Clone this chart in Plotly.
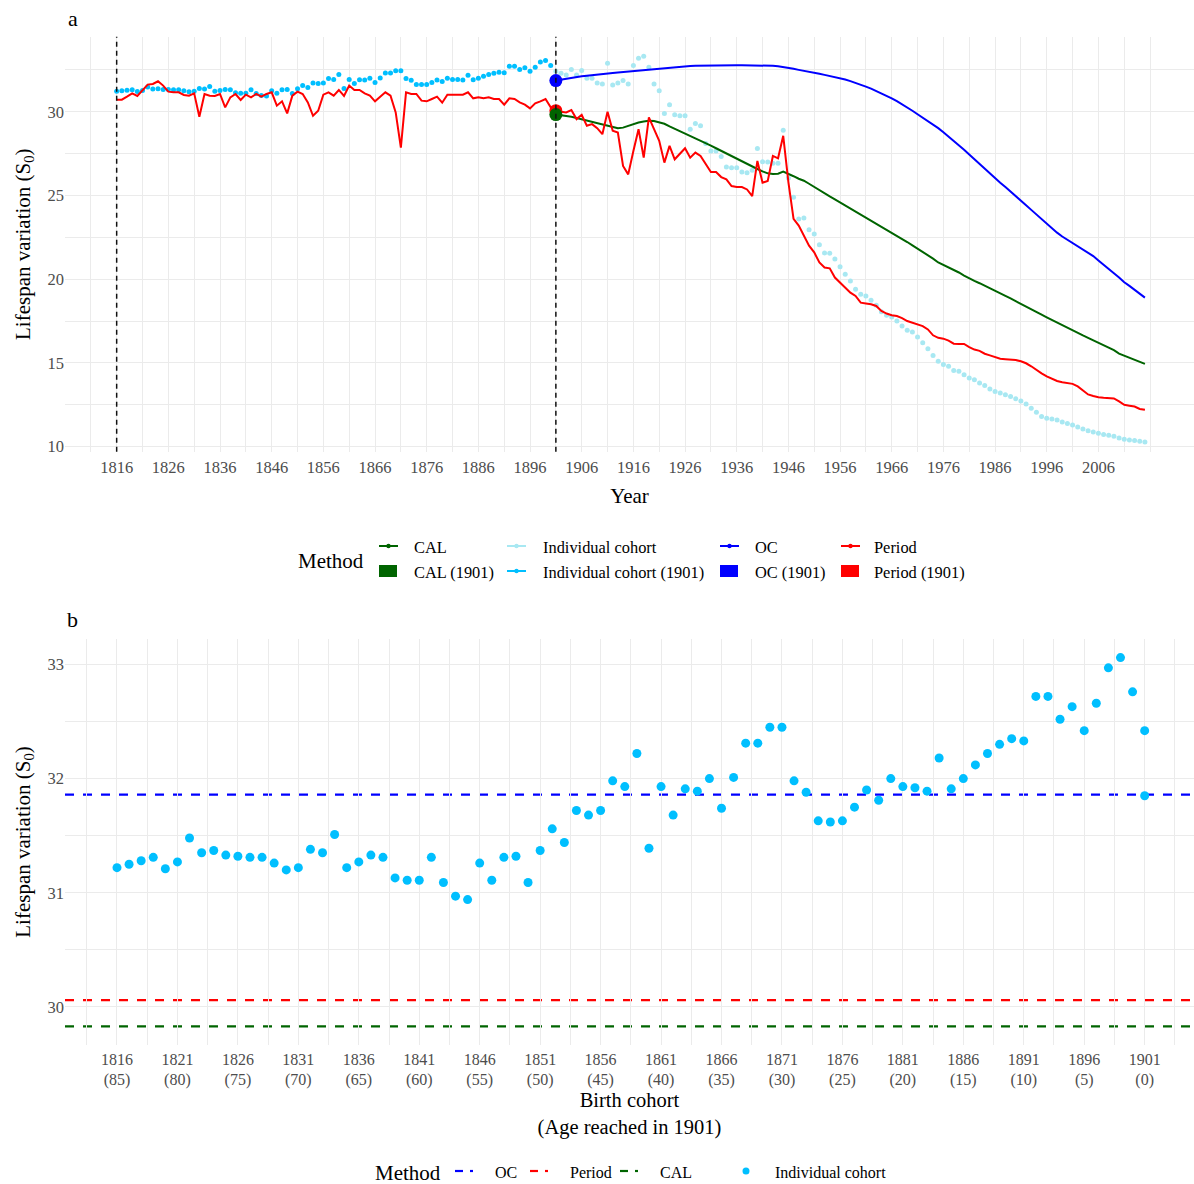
import plotly.graph_objects as go

W, H = 1194, 1184
FONT = "Liberation Serif"

# ---------------- data ----------------
ref_year = 1901

# Period lifespan variation, 1816-2015
period_s0 = [
    30.72, 30.72, 30.9, 31.1, 30.94, 31.3, 31.62, 31.66, 31.82, 31.56,
    31.2, 31.16, 31.16, 31.0, 30.96, 31.1, 29.7, 31.06, 30.96, 30.94,
    31.06, 30.26, 30.86, 31.06, 30.7, 31.02, 30.86, 31.06, 30.9, 31.06,
    31.16, 30.36, 30.62, 29.9, 30.96, 31.2, 31.06, 30.56, 29.76, 30.06,
    31.02, 31.16, 30.96, 31.3, 30.94, 31.56, 31.3, 31.3, 31.1, 30.96,
    30.62, 30.9, 31.16, 30.96, 29.96, 27.86, 31.16, 31.06, 31.06, 30.66,
    30.62, 30.76, 30.9, 30.54, 31.02, 31.02, 31.0, 31.02, 31.16, 30.8,
    30.86, 30.8, 30.86, 30.76, 30.76, 30.42, 30.8, 30.76, 30.56, 30.42,
    30.2, 30.5, 30.62, 30.76, 30.26,
    30.06, 30.0, 29.96, 30.1, 29.56, 29.82, 29.16, 29.26, 29.02, 28.66,
    30.0, 28.86, 28.76, 26.76, 26.26, 27.66, 28.96, 27.26, 29.66, 28.96,
    28.26, 26.96, 27.96, 27.16, 27.46, 27.82, 27.26, 27.56, 27.36, 26.86,
    26.4, 26.4, 26.1, 25.96, 25.56, 25.5, 25.5, 25.36, 24.96, 27.06,
    25.76, 25.86, 27.36, 27.22, 28.56, 25.8, 23.6, 23.2,
    22.6, 22.0, 21.6, 21.0, 20.7, 20.65, 20.1, 19.8, 19.5, 19.2,
    19.0, 18.6, 18.55, 18.5, 18.4, 18.1, 17.95, 17.85, 17.8, 17.68,
    17.5, 17.4, 17.3, 17.2, 17.0, 16.65, 16.5, 16.45, 16.33, 16.15,
    16.13, 16.13, 15.95, 15.8, 15.72, 15.55, 15.45, 15.35, 15.25, 15.22,
    15.2, 15.17, 15.1, 14.98, 14.8, 14.58, 14.38, 14.2, 14.05, 13.92,
    13.85, 13.82, 13.75, 13.6, 13.35, 13.12, 13.03, 12.95, 12.92, 12.92,
    12.88, 12.7, 12.5, 12.45, 12.4, 12.25, 12.2,
]
period_years = list(range(1816, 1816 + len(period_s0)))

# CAL, 1901-2015
cal_s0 = [
    29.83, 29.8, 29.76, 29.7, 29.63, 29.55, 29.47, 29.4, 29.3, 29.22,
    29.16, 29.08, 29.02, 29.05, 29.15, 29.28, 29.36, 29.42, 29.46, 29.44,
    29.38, 29.28, 29.12, 28.98, 28.85, 28.7, 28.56, 28.44, 28.3, 28.13,
    27.98, 27.82, 27.66, 27.5, 27.34, 27.18, 27.02, 26.86, 26.72, 26.58,
    26.44, 26.32, 26.28, 26.3, 26.42, 26.3, 26.15, 26.0, 25.88, 25.7,
    25.5, 25.3, 25.12, 24.94, 24.76, 24.58, 24.4, 24.22, 24.05, 23.88,
    23.71, 23.52, 23.34, 23.16, 22.98, 22.8, 22.6, 22.42, 22.22, 22.02,
    21.83, 21.63, 21.43, 21.23, 21.0, 20.85, 20.73, 20.58, 20.4, 20.22,
    20.04, 19.9, 19.76, 19.6, 19.45, 19.3, 19.15, 19.0, 18.85, 18.68,
    18.51, 18.36, 18.2, 18.04, 17.88, 17.72, 17.56, 17.4, 17.24, 17.08,
    16.92, 16.78, 16.64, 16.5, 16.36, 16.22, 16.08, 15.92, 15.76, 15.56,
    15.44, 15.32, 15.18, 15.05, 14.94,
]

# OC, 1901-2015
oc_s0 = [
    31.86, 31.92, 31.98, 32.04, 32.08, 32.12, 32.15, 32.19, 32.22, 32.25,
    32.28, 32.31, 32.34, 32.37, 32.4, 32.43, 32.46, 32.49, 32.52, 32.55,
    32.58, 32.61, 32.64, 32.67, 32.69, 32.71, 32.73, 32.74, 32.75, 32.76,
    32.77, 32.78, 32.78, 32.78, 32.78, 32.78, 32.78, 32.78, 32.78, 32.78,
    32.77, 32.76, 32.74, 32.71, 32.67, 32.62, 32.56, 32.5, 32.45, 32.4,
    32.34, 32.27, 32.2, 32.14, 32.07, 32.0, 31.92, 31.83, 31.73, 31.62,
    31.5, 31.38, 31.24, 31.1, 30.95, 30.8, 30.63, 30.45, 30.26, 30.06,
    29.85, 29.65, 29.45, 29.25, 29.02, 28.78, 28.53, 28.27, 28.0, 27.73,
    27.45, 27.16, 26.87, 26.58, 26.3, 26.03, 25.76, 25.5, 25.24, 24.98,
    24.7, 24.42, 24.14, 23.86, 23.58, 23.3, 23.04, 22.78, 22.55, 22.35,
    22.18, 22.0, 21.8, 21.6, 21.38, 21.12, 20.85, 20.6, 20.35, 20.1,
    19.82, 19.6, 19.38, 19.15, 18.9,
]

# Individual cohort (after 1901), 1901-2015
cohort_post_s0 = [
    32.42, 32.3, 32.2, 32.52, 32.2, 32.46, 32.0, 32.0, 31.72, 31.66,
    32.9, 31.6, 31.72, 31.86, 31.66, 32.76, 33.2, 33.32, 32.66, 31.66,
    31.26, 29.9, 30.42, 29.82, 29.76, 29.76, 28.96, 29.3, 29.16, 28.1,
    27.66, 27.66, 27.32, 26.7, 26.66, 26.66, 26.4, 26.36, 26.5, 27.8,
    27.02, 27.0, 26.92, 26.92, 28.9, 26.05, 24.9, 23.6, 23.65, 22.95,
    22.7, 22.05, 21.57, 21.55, 21.2, 20.75, 20.3, 19.9, 19.4, 19.1,
    19.0, 18.75, 18.45, 18.05, 17.85, 17.75, 17.5, 17.2, 16.95, 16.85,
    16.55, 16.2, 15.85, 15.45, 15.1, 14.9, 14.8, 14.55, 14.5, 14.3,
    14.1, 14.0, 13.8, 13.65, 13.45, 13.3, 13.2, 13.1, 13.0, 12.86,
    12.72, 12.55, 12.3, 12.05, 11.8, 11.7, 11.65, 11.6, 11.48, 11.38,
    11.3, 11.18, 11.05, 10.95, 10.88, 10.8, 10.73, 10.68, 10.62, 10.52,
    10.45, 10.4, 10.37, 10.33, 10.28,
]
post_years = list(range(ref_year, ref_year + len(cal_s0)))

# Individual cohort lifespan variation by birth cohort 1816-1901
cohort_s0 = [
    31.22, 31.25, 31.28, 31.31, 31.21, 31.27, 31.48, 31.35, 31.37, 31.33,
    31.32, 31.31, 31.31, 31.26, 31.20, 31.22, 31.38, 31.35, 31.51, 31.22,
    31.27, 31.33, 31.31, 31.13, 31.11, 31.11, 31.31, 31.09, 30.97, 30.94,
    31.26, 31.11, 31.31, 31.32, 31.09, 31.37, 31.56, 31.44, 31.72, 31.68,
    31.72, 31.98, 31.93, 32.22, 31.39, 31.93, 31.68, 31.91, 31.89, 32.00,
    31.74, 32.01, 32.31, 32.31, 32.45, 32.45, 31.98, 31.88, 31.63, 31.62,
    31.63, 31.75, 31.90, 31.81, 32.00, 31.93, 31.92, 31.89, 32.18, 31.91,
    32.00, 32.12, 32.22, 32.30, 32.35, 32.33, 32.72, 32.72, 32.52, 32.63,
    32.42, 32.66, 32.97, 33.06, 32.76, 32.42,
]
birth_cohort = list(range(1816, 1816 + len(cohort_s0)))
# additional point drawn for the 1901 cohort
extra_cohort_year = [1901]
extra_cohort_s0 = [31.85]

a_xticks = list(range(1816, 2007, 10))
a_xgrid_minor = list(range(1811, 2017, 10)) + [2016]
a_yticks = [10, 15, 20, 25, 30]
b_xticks = list(range(1816, 1902, 5))
b_xticklabels = [f"{v}<br>({ref_year - v})" for v in b_xticks]
b_yticks = [30, 31, 32, 33]

# ---------------- styles ----------------
RED = "#FF0000"
GREEN = "#006400"
BLUE = "#0000FF"
DSB = "#00BFFF"
PALE = "#A8E8F2"
GRID = "#EBEBEB"
TICKC = "#4D4D4D"


def px(x):
    return x / W


def py(y):
    return 1 - y / H


fig = go.Figure()

# ---- panel a ----
fig.add_trace(go.Scatter(x=post_years, y=cohort_post_s0, mode="markers",
                         marker=dict(size=5, color=PALE), xaxis="x", yaxis="y",
                         name="Individual cohort"))
fig.add_trace(go.Scatter(x=birth_cohort[:-1], y=cohort_s0[:-1], mode="markers",
                         marker=dict(size=5, color=DSB), xaxis="x", yaxis="y",
                         name="Individual cohort (1901)"))
fig.add_trace(go.Scatter(x=post_years, y=cal_s0, mode="lines",
                         line=dict(color=GREEN, width=2), xaxis="x", yaxis="y", name="CAL"))
fig.add_trace(go.Scatter(x=post_years, y=oc_s0, mode="lines",
                         line=dict(color=BLUE, width=2), xaxis="x", yaxis="y", name="OC"))
fig.add_trace(go.Scatter(x=period_years, y=period_s0, mode="lines",
                         line=dict(color=RED, width=2), xaxis="x", yaxis="y", name="Period"))
p1901 = period_s0[period_years.index(ref_year)]
fig.add_trace(go.Scatter(x=[ref_year], y=[p1901], mode="markers",
                         marker=dict(size=13, color=RED), xaxis="x", yaxis="y",
                         name="Period (1901)"))
fig.add_trace(go.Scatter(x=[ref_year], y=[oc_s0[0]], mode="markers",
                         marker=dict(size=13, color=BLUE), xaxis="x", yaxis="y",
                         name="OC (1901)"))
fig.add_trace(go.Scatter(x=[ref_year], y=[cal_s0[0]], mode="markers",
                         marker=dict(size=13, color=GREEN), xaxis="x", yaxis="y",
                         name="CAL (1901)"))

# ---- panel b ----
fig.add_trace(go.Scatter(x=birth_cohort + extra_cohort_year, y=cohort_s0 + extra_cohort_s0,
                         mode="markers", marker=dict(size=9, color=DSB),
                         xaxis="x2", yaxis="y2", name="Individual cohort"))

shapes = []
# vertical dashed reference lines in panel a
for xv in [period_years[0], ref_year]:
    shapes.append(dict(type="line", xref="x", yref="paper", x0=xv, x1=xv,
                       y0=py(451.7), y1=py(36.7),
                       line=dict(color="#111111", width=1.5, dash="5px,4px"), layer="above"))
# horizontal dashed reference lines in panel b
for val, col in [(oc_s0[0], BLUE), (p1901, RED), (cal_s0[0], GREEN)]:
    shapes.append(dict(type="line", xref="paper", yref="y2", x0=px(65), x1=1.0, y0=val, y1=val,
                       line=dict(color=col, width=2.2, dash="dash"), layer="below"))

annotations = []


def text(x, y, s, size=16.4, color="black", xanchor="left", yanchor="middle", angle=0):
    annotations.append(dict(x=px(x), y=py(y), xref="paper", yref="paper", text=s,
                            showarrow=False, xanchor=xanchor, yanchor=yanchor,
                            textangle=angle,
                            font=dict(family=FONT, size=size, color=color)))


# panel labels
text(66, 19, "a", size=22)
text(65, 619, "b", size=22)

# ---- manual legend panel a ----
TOFF = 1.5
text(296, 559 + TOFF, "Method", size=21)
row1 = 546
row2 = 571
cols = [(379, 412), (507, 541), (720, 753), (841, 872)]
row1_items = [("CAL", GREEN), ("Individual cohort", PALE), ("OC", BLUE), ("Period", RED)]
row2_items = [("CAL (1901)", GREEN, "rect"), ("Individual cohort (1901)", DSB, "line"),
              ("OC (1901)", BLUE, "rect"), ("Period (1901)", RED, "rect")]


def line_glyph(x0, y, col, w=19):
    shapes.append(dict(type="line", xref="paper", yref="paper", x0=px(x0), x1=px(x0 + w),
                       y0=py(y), y1=py(y), line=dict(color=col, width=2)))
    c = x0 + w / 2
    shapes.append(dict(type="circle", xref="paper", yref="paper", x0=px(c - 2.2), x1=px(c + 2.2),
                       y0=py(y + 2.2), y1=py(y - 2.2), fillcolor=col, line=dict(width=0)))


for (g, t), (lab, col) in zip(cols, row1_items):
    line_glyph(g, row1, col)
    text(t, row1 + TOFF, lab)
for (g, t), (lab, col, kind) in zip(cols, row2_items):
    if kind == "rect":
        shapes.append(dict(type="rect", xref="paper", yref="paper", x0=px(g), x1=px(g + 18),
                           y0=py(row2 + 6), y1=py(row2 - 6), fillcolor=col, line=dict(width=0)))
    else:
        line_glyph(g, row2, col)
    text(t, row2 + TOFF, lab)

# ---- manual legend panel b ----
rowb = 1171
text(373, rowb + TOFF, "Method", size=21)
for g, col, lab in [(455, BLUE, "OC"), (530, RED, "Period"), (620, GREEN, "CAL")]:
    shapes.append(dict(type="line", xref="paper", yref="paper", x0=px(g), x1=px(g + 8),
                       y0=py(rowb), y1=py(rowb), line=dict(color=col, width=2.2)))
    shapes.append(dict(type="line", xref="paper", yref="paper", x0=px(g + 15), x1=px(g + 18),
                       y0=py(rowb), y1=py(rowb), line=dict(color=col, width=2.2)))
    text(g + 38, rowb + TOFF, lab, size=16)
shapes.append(dict(type="circle", xref="paper", yref="paper", x0=px(746 - 3.5), x1=px(746 + 3.5),
                   y0=py(rowb + 3.5), y1=py(rowb - 3.5), fillcolor=DSB, line=dict(width=0)))
text(773, rowb + TOFF, "Individual cohort", size=16)

axis_common = dict(showgrid=True, gridcolor=GRID, gridwidth=1.1, zeroline=False,
                   showline=False, ticks="", automargin=False)
tickfont = dict(family=FONT, size=16.5, color=TICKC)
titlefont = dict(family=FONT, size=21, color="black")
ytitle = "Lifespan variation (S<sub>0</sub>)"

fig.update_layout(
    width=W, height=H,
    margin=dict(l=0, r=0, t=0, b=0),
    paper_bgcolor="white", plot_bgcolor="white",
    showlegend=False,
    font=dict(family=FONT),
    xaxis=dict(domain=[px(65), 1.0], range=[1806.0, 2024.5], anchor="y",
               tickmode="array", tickvals=a_xticks, ticktext=[str(v) for v in a_xticks],
               ticklabelstandoff=4, tickfont=tickfont,
               title=dict(text="Year", font=titlefont, standoff=12),
               minor=dict(tickmode="array", tickvals=a_xgrid_minor,
                          showgrid=True, gridcolor=GRID, gridwidth=0.9),
               **axis_common),
    yaxis=dict(domain=[py(451.7), py(36.7)], range=[9.7, 34.48], anchor="x",
               tickmode="array", tickvals=a_yticks, tickfont=tickfont,
               title=dict(text=ytitle, font=titlefont, standoff=11),
               minor=dict(tickmode="array", tickvals=[12.5, 17.5, 22.5, 27.5, 32.5],
                          showgrid=True, gridcolor=GRID, gridwidth=0.8),
               **axis_common),
    xaxis2=dict(domain=[px(65), 1.0], range=[1811.7, 1905.08], anchor="y2",
                tickmode="array", tickvals=b_xticks, ticktext=b_xticklabels,
                ticklabelstandoff=3, tickfont=dict(family=FONT, size=16, color=TICKC),
                title=dict(text="Birth cohort<br>(Age reached in 1901)",
                           font=dict(family=FONT, size=20.5, color="black"), standoff=4),
                minor=dict(tickmode="array", tickvals=[v + 2.5 for v in range(1811, 1902, 5)],
                           showgrid=True, gridcolor=GRID, gridwidth=0.8),
                **axis_common),
    yaxis2=dict(domain=[py(1044.6), py(639.3)], range=[29.67, 33.22], anchor="x2",
                tickmode="array", tickvals=b_yticks, tickfont=tickfont,
                title=dict(text=ytitle, font=titlefont, standoff=11),
                minor=dict(tickmode="array", tickvals=[30.5, 31.5, 32.5],
                           showgrid=True, gridcolor=GRID, gridwidth=0.8),
                **axis_common),
    shapes=shapes,
    annotations=annotations,
)

fig.write_html("out.html")
